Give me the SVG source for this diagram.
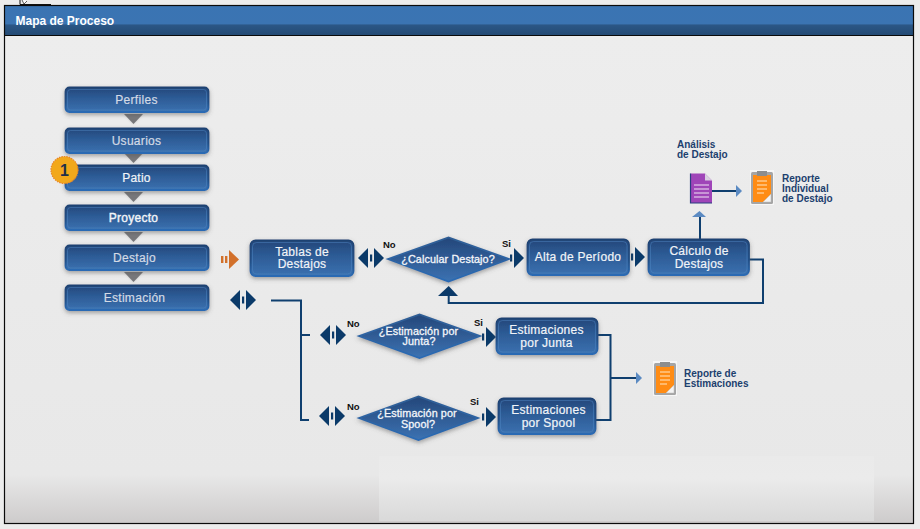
<svg xmlns="http://www.w3.org/2000/svg" xmlns:xlink="http://www.w3.org/1999/xlink" width="920" height="529" viewBox="0 0 920 529">
<style>
text{font-family:"Liberation Sans",Arial,sans-serif}
.box{fill:url(#boxFill);stroke:url(#boxStroke);stroke-width:1.8;filter:url(#sh)}
.inner{fill:none;stroke:#4f86c4;stroke-opacity:.6;stroke-width:.8}
.dia{fill:url(#diaFill);stroke:url(#diaStroke);stroke-width:1.8;filter:url(#sh)}
.t{fill:#f1f4f8;stroke:#f1f4f8;stroke-width:.2;font-size:12px;text-anchor:middle;letter-spacing:.25px}
.g{fill:#d3dae5;stroke:#d3dae5;stroke-width:.2;font-size:12px;text-anchor:middle;letter-spacing:.3px}
.q{fill:#f4f6fa;stroke:#f4f6fa;stroke-width:.3;font-size:10.8px;text-anchor:middle;letter-spacing:.1px}
.yn{fill:#111;font-size:9.5px;font-weight:bold}
.lbl{fill:#1c3f6e;font-size:10px;font-weight:bold}
.ln{fill:none;stroke:#0f3f6f;stroke-width:2}
.nv{fill:#0b3a69}
.lb{fill:#5b8ac2}
.tri{fill:#77777a;filter:url(#soft)}
</style>
<defs>
<linearGradient id="panel" x1="0" y1="0" x2="0" y2="1"><stop offset="0" stop-color="#ededed"/><stop offset=".9" stop-color="#e8e8e8"/><stop offset="1" stop-color="#cdcbcb"/></linearGradient>
<linearGradient id="lite" x1="0" y1="0" x2="0" y2="1"><stop offset="0" stop-color="#eaeaea"/><stop offset=".35" stop-color="#ebebeb"/><stop offset="1" stop-color="#d9d9d9"/></linearGradient>
<linearGradient id="head" x1="0" y1="0" x2="0" y2="1"><stop offset="0" stop-color="#3a74b3"/><stop offset=".6" stop-color="#3b74b2"/><stop offset=".66" stop-color="#2b5685"/><stop offset="1" stop-color="#234a74"/></linearGradient>
<linearGradient id="boxFill" x1="0" y1="0" x2="0" y2="1"><stop offset="0" stop-color="#25477a"/><stop offset=".4" stop-color="#2c5a94"/><stop offset="1" stop-color="#3b71b0"/></linearGradient>
<linearGradient id="boxStroke" x1="0" y1="0" x2="0" y2="1"><stop offset="0" stop-color="#1f4373"/><stop offset=".6" stop-color="#224f86"/><stop offset="1" stop-color="#2a6bb4"/></linearGradient>
<linearGradient id="diaFill" x1="0" y1="0" x2="0" y2="1"><stop offset="0" stop-color="#24477a"/><stop offset="1" stop-color="#3c72b2"/></linearGradient>
<linearGradient id="diaStroke" x1="0" y1="0" x2="0" y2="1"><stop offset="0" stop-color="#2f5d94"/><stop offset="1" stop-color="#2a6bb4"/></linearGradient>
<filter id="sh" x="-15%" y="-30%" width="130%" height="170%"><feDropShadow dx="0" dy="2" stdDeviation="2.2" flood-color="#555" flood-opacity=".5"/></filter>
<filter id="soft" x="-20%" y="-20%" width="140%" height="140%"><feDropShadow dx="0" dy="0" stdDeviation=".8" flood-color="#999" flood-opacity=".5"/></filter>
<polygon id="down" points="124,0 143,0 133.5,10"/>
<g id="both" class="nv"><polygon points="-13,0 -3,-10 -3,10"/><rect x="-1" y="-3.5" width="2.2" height="7"/><polygon points="3,-10 13,0 3,10"/></g>
<g id="fwd" class="nv"><rect x="0" y="-3.5" width="2.2" height="7"/><polygon points="4,-10 14,0 4,10"/></g>
<g id="clip"><rect x="0" y="0" width="24" height="35" fill="#f6f6f6"/><rect x="1" y="2" width="22" height="32" rx="1.5" fill="#a5a5a5"/><rect x="3" y="5" width="18" height="27" fill="#ff8c14"/><path d="M21 24 L21 32 L13 32 Z" fill="#f3f3f3" stroke="#bbb" stroke-width=".5"/><rect x="7" y="1" width="10" height="5" fill="#8d8d8d"/><path d="M7 11h10M7 15h10M7 19h10M7 23h7" stroke="#ffe6c4" stroke-width="1.2"/></g>
</defs>

<rect x="0" y="0" width="920" height="529" fill="#ececec"/>
<g id="cursor"><path d="M20 0 L20 4.5 L51 4.5" fill="none" stroke="#111" stroke-width="1"/><path d="M22 0 L24 4 L27 1" fill="#fff" stroke="#333" stroke-width=".8"/></g>
<rect x="4.5" y="35.5" width="909" height="488" fill="url(#panel)"/>
<rect x="379" y="456" width="495" height="65" fill="url(#lite)"/>
<rect x="4.5" y="5.5" width="909" height="30" fill="url(#head)"/>
<rect x="4.5" y="5.5" width="909" height="518" fill="none" stroke="#0a0a0a" stroke-width="1.2"/>
<line x1="4.5" y1="35.5" x2="913.5" y2="35.5" stroke="#0a0a0a" stroke-width="1.2"/>
<text x="15.5" y="25" fill="#fff" font-size="12" font-weight="bold">Mapa de Proceso</text>

<g id="connectors">
<use href="#down" class="tri" y="114"/>
<use href="#down" class="tri" y="153"/>
<use href="#down" class="tri" y="192"/>
<use href="#down" class="tri" y="232"/>
<use href="#down" class="tri" y="272"/>
<g fill="#d2702a"><rect x="221" y="256" width="2.4" height="7"/><rect x="225" y="256" width="2.4" height="7"/><polygon points="229,250 239,259.500 229,269"/></g>
<use href="#both" x="243" y="300"/>
<use href="#both" x="371" y="258"/>
<use href="#both" x="333" y="335"/>
<use href="#both" x="332" y="416"/>
<use href="#fwd" x="510" y="258"/>
<use href="#fwd" x="631" y="257"/>
<use href="#fwd" x="482" y="337"/>
<use href="#fwd" x="482" y="417"/>
<path class="ln" d="M271 300.500H301V420H309M301 335H310"/>
<path class="ln" d="M749 259.500H763V303H448.700V295"/>
<polygon class="nv" points="438,296 448.700,286 458,296"/>
<path class="ln" d="M700 239V217M712 191H736"/>
<polygon class="lb" points="692,217 699.500,211 706,217"/>
<polygon class="lb" points="736,185 742,191 736,197"/>
<path class="ln" d="M598 335H610.500V420H596M610.500 378H636"/>
<polygon class="lb" points="636,372 642,378 636,384"/>
</g>

<g id="n-perfiles"><rect class="box" x="65.500" y="87.500" width="143" height="24.500" rx="4"/><rect class="inner" x="67.500" y="89.500" width="139" height="20.500" rx="3"/><text class="g" x="136.500" y="103.500">Perfiles</text></g>
<g id="n-usuarios"><rect class="box" x="65.500" y="128.500" width="143" height="24.500" rx="4"/><rect class="inner" x="67.500" y="130.500" width="139" height="20.500" rx="3"/><text class="g" x="136.500" y="144.500">Usuarios</text></g>
<g id="n-patio"><rect class="box" x="65.500" y="165.500" width="143" height="24.500" rx="4"/><rect class="inner" x="67.500" y="167.500" width="139" height="20.500" rx="3"/><text class="t" x="136.500" y="181.500">Patio</text></g>
<g id="n-proyecto"><rect class="box" x="65.500" y="205.500" width="143" height="24.500" rx="4"/><rect class="inner" x="67.500" y="207.500" width="139" height="20.500" rx="3"/><text class="t" x="133.500" y="221.500" style="stroke-width:.4">Proyecto</text></g>
<g id="n-destajo"><rect class="box" x="65.500" y="245.500" width="143" height="24.500" rx="4"/><rect class="inner" x="67.500" y="247.500" width="139" height="20.500" rx="3"/><text class="g" x="134.500" y="261.500">Destajo</text></g>
<g id="n-estimacion"><rect class="box" x="65.500" y="285.500" width="143" height="24.500" rx="4"/><rect class="inner" x="67.500" y="287.500" width="139" height="20.500" rx="3"/><text class="g" x="134.500" y="301.500">Estimación</text></g>

<g id="badge"><circle cx="64.500" cy="170" r="13.500" fill="#f2a81b" stroke="#e8862a" stroke-width="1.2" stroke-dasharray="1.5 1"/><text x="64.500" y="175.500" fill="#1f2f4a" font-size="16" font-weight="bold" text-anchor="middle">1</text></g>

<g id="n-tablas"><rect class="box" x="250.500" y="240.500" width="103" height="35.500" rx="5"/><rect class="inner" x="252.500" y="242.500" width="99" height="31.500" rx="4"/><text class="t" x="302" y="255.500">Tablas de</text><text class="t" x="302" y="268">Destajos</text></g>
<g id="n-calcular"><polygon class="dia" points="388,259 448.500,237.500 509,259 448.500,281.500"/><text class="q" x="448" y="262.500">¿Calcular Destajo?</text></g>
<text class="yn" x="383" y="248">No</text><text class="yn" x="502" y="247">Si</text>
<g id="n-alta"><rect class="box" x="527.500" y="239.500" width="101.500" height="35.500" rx="5"/><rect class="inner" x="529.500" y="241.500" width="97.500" height="31.500" rx="4"/><text class="t" x="578" y="261">Alta de Período</text></g>
<g id="n-calculo"><rect class="box" x="648.500" y="239.500" width="100.500" height="35.500" rx="5"/><rect class="inner" x="650.500" y="241.500" width="96.500" height="31.500" rx="4"/><text class="t" x="699" y="255">Cálculo de</text><text class="t" x="699" y="267.500">Destajos</text></g>

<g id="n-analisis"><path d="M690.500 173.500H705L712 180.500V203H690.500Z" fill="#9f45b8"/><path d="M690.500 173.500V203H712" fill="none" stroke="#2b3f80" stroke-width="1.2"/><path d="M705 173.500V180.500H712Z" fill="#d9cfe0"/><path d="M694 185h15M694 189h15M694 193h15M694 197h15" stroke="#f0e6f4" stroke-width="1"/><text class="lbl" x="677" y="148">Análisis</text><text class="lbl" x="677" y="158">de Destajo</text></g>
<g id="n-reporte-destajo"><use href="#clip" x="750" y="170"/><text class="lbl" x="782" y="182">Reporte</text><text class="lbl" x="782" y="192">Individual</text><text class="lbl" x="782" y="202">de Destajo</text></g>

<g id="n-q-junta"><polygon class="dia" points="359,336 419.500,314.500 480,336 419.500,358"/><text class="q" x="418.500" y="334.500">¿Estimación por</text><text class="q" x="419" y="345">Junta?</text></g>
<text class="yn" x="347" y="327">No</text><text class="yn" x="474" y="326">Si</text>
<g id="n-q-spool"><polygon class="dia" points="359,418 418.500,396.500 478,418 418.500,440"/><text class="q" x="417" y="417">¿Estimación por</text><text class="q" x="418" y="428">Spool?</text></g>
<text class="yn" x="347" y="410">No</text><text class="yn" x="470" y="405">Si</text>

<g id="n-est-junta"><rect class="box" x="496.500" y="318.500" width="101" height="35.500" rx="5"/><rect class="inner" x="498.500" y="320.500" width="97" height="31.500" rx="4"/><text class="t" x="546.500" y="334">Estimaciones</text><text class="t" x="546.500" y="346.500">por Junta</text></g>
<g id="n-est-spool"><rect class="box" x="498.500" y="398.500" width="97" height="35.500" rx="5"/><rect class="inner" x="500.500" y="400.500" width="93" height="31.500" rx="4"/><text class="t" x="548.500" y="414">Estimaciones</text><text class="t" x="548.500" y="426.500">por Spool</text></g>
<g id="n-reporte-est"><use href="#clip" x="653" y="361"/><text class="lbl" x="684" y="377">Reporte de</text><text class="lbl" x="684" y="387">Estimaciones</text></g>
</svg>
